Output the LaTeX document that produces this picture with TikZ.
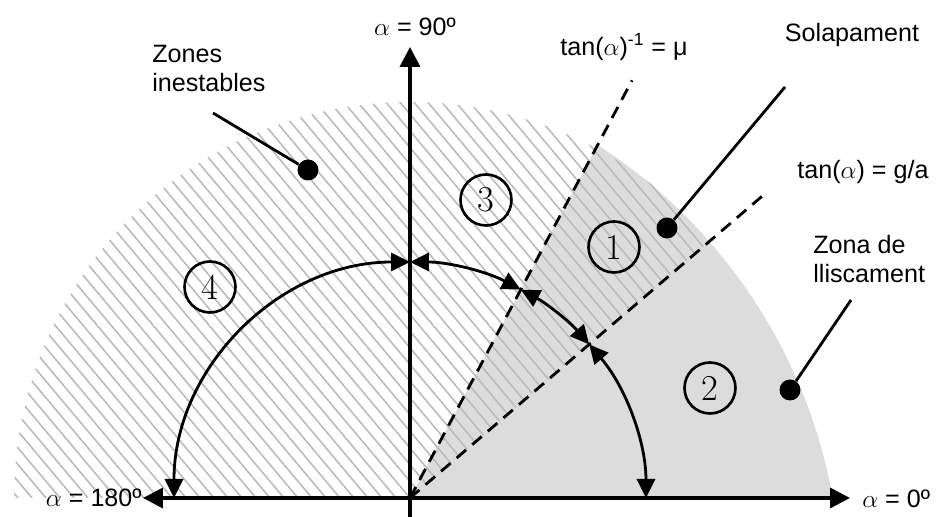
\documentclass[tikz,border=0pt]{standalone}
\usepackage{fontspec}
\setsansfont{Liberation Sans}
\usetikzlibrary{arrows.meta}
\definecolor{slide}    {HTML}{DCDCDC}
\definecolor{hatchgray}{HTML}{BBBBBB}

\begin{document}
\begin{tikzpicture}[x=0.02cm, y=0.02cm,
    axis/.style={line width=2pt, -{Triangle[length=0.4cm, width=0.4cm]}},
    angarc/.style={line width=1.6pt,
                   {Triangle[length=0.38cm, width=0.36cm]}-{Triangle[length=0.38cm, width=0.36cm]}},
    limit/.style={line width=1.6pt, dash pattern=on 0.25cm off 0.16cm},
    hatchline/.style={hatchgray, line width=0.9pt},
    zonenum/.style={draw, circle, line width=1.5pt, minimum size=1.02cm, inner sep=0pt, font=\huge},
    zonedot/.style={fill, circle, minimum size=0.42cm, inner sep=0pt},
    leader/.style={line width=1.6pt},
    lbl/.style={font=\sffamily\fontsize{14.3}{16.5}\selectfont, inner sep=0pt, align=left}
  ]
    \useasboundingbox (-410,-19) rectangle (531,498);

    % sliding zone: sector 0..62 deg cut by an off-centre circle
    \begin{scope}
      \clip (-101,-94) circle (532);
      \fill[slide] (0,0) -- (600,0) -- (600,600) -- (62:700) -- cycle;
    \end{scope}

    % unstable zones: hatched sector 40.6..180 deg
    \begin{scope}
      \clip (0,0) -- (40.6:396) arc[start angle=40.6, end angle=180, radius=396] -- cycle;
      \foreach \i in {-420,-406,...,760}
        \draw[hatchline] (\i,0) ++(-50:60) -- ++(130:700);
    \end{scope}

    \coordinate (o)   at (0,0);
    \coordinate (xr)  at (440,0);
    \coordinate (xl)  at (-267,0);
    \coordinate (yt)  at (0,451);
    \coordinate (yb)  at (0,-20);
    \coordinate (dmu) at (62:473);
    \coordinate (dga) at (40.6:469);

    \draw[limit] (o) -- (dmu);
    \draw[limit] (o) -- (dga);

    \draw[axis] (yb) -- (yt);
    \draw[axis] (o) -- (xr);
    \draw[axis] (o) -- (xl);

    \draw[angarc] (180:236) arc[start angle=180, end angle=90, radius=236];
    \draw[angarc] (90:236) arc[start angle=90, end angle=62, radius=236];
    \draw[angarc] (62:236) arc[start angle=62, end angle=40.6, radius=236];
    \draw[angarc] (40.6:236) arc[start angle=40.6, end angle=0, radius=236];

    \node[zonenum] (n1) at (204,251) {1};
    \node[zonenum] (n2) at (300,110) {2};
    \node[zonenum] (n3) at (76,298)  {3};
    \node[zonenum] (n4) at (-200,211) {4};

    \node[lbl] (a90)  at (5,471)          {$\alpha$ = 90º};
    \node[lbl, anchor=west] (a0)   at (452,-1) {$\alpha$ = 0º};
    \node[lbl, anchor=east] (a180) at (-268,0) {$\alpha$ = 180º};

    \node[lbl] (lmu) at (214,451) {tan($\alpha$)\textsuperscript{-1} = μ};
    \node[lbl] (lga) at (453,326) {tan($\alpha$) = g/a};

    \node[lbl, anchor=west] (lzi) at (-258,430) {Zones\\inestables};
    \node[lbl] (lsol) at (442,463) {Solapament};
    \node[lbl, anchor=west] (lzl) at (403,239) {Zona de\\lliscament};

    \node[zonedot] (dzi)  at (-102,328) {};
    \node[zonedot] (dsol) at (257,270)  {};
    \node[zonedot] (dzl)  at (380,108)  {};

    \coordinate (czi)  at (-197,385);
    \coordinate (csol) at (375,411);
    \coordinate (czl)  at (441,198);
    \draw[leader] (czi)  -- (dzi);
    \draw[leader] (csol) -- (dsol);
    \draw[leader] (czl)  -- (dzl);
  \end{tikzpicture}
\end{document}
